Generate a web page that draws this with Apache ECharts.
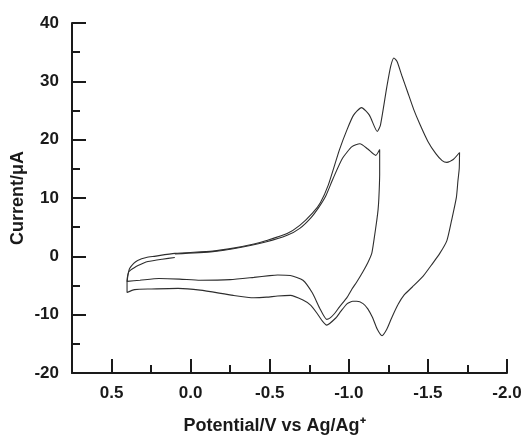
<!DOCTYPE html>
<html>
<head>
<meta charset="utf-8">
<script src="https://cdn.jsdelivr.net/npm/echarts@6/dist/echarts.min.js"></script>
<style>
  html, body { margin: 0; padding: 0; background: #fff; }
  #chart { width: 524px; height: 435px; }
</style>
</head>
<body>
<div id="chart"></div>
<script>
// wide scan (0.4 V -> -1.7 V -> 0.4 V), [potential V, current uA]
const outerScan = [
  [0.402, -4.4], [0.395, -3.0], [0.386, -2.1], [0.36, -1.2], [0.335, -0.7], [0.28, -0.2],
  [0.23, 0.0], [0.10, 0.5], [-0.14, 0.9], [-0.27, 1.4], [-0.40, 2.1], [-0.48, 2.7],
  [-0.61, 3.9], [-0.69, 5.3], [-0.77, 7.4], [-0.82, 9.2], [-0.87, 12.2], [-0.94, 18.2],
  [-0.99, 21.8], [-1.03, 24.2], [-1.08, 25.5], [-1.13, 24.2], [-1.18, 21.4], [-1.20, 22.5],
  [-1.24, 29.0], [-1.265, 32.6], [-1.285, 34.0], [-1.305, 33.4], [-1.335, 31.0], [-1.37, 28.3],
  [-1.41, 25.2], [-1.45, 22.6], [-1.50, 19.7], [-1.55, 17.6], [-1.59, 16.4], [-1.62, 16.1],
  [-1.66, 16.6], [-1.70, 17.8],
  [-1.698, 15.0], [-1.69, 13.0], [-1.68, 10.1], [-1.65, 6.2], [-1.62, 2.7], [-1.575, 0.5],
  [-1.53, -1.2], [-1.47, -3.4], [-1.40, -5.3], [-1.35, -6.6], [-1.31, -8.3],
  [-1.27, -10.6], [-1.24, -12.5], [-1.21, -13.6], [-1.18, -12.5], [-1.15, -10.5], [-1.12, -9.0],
  [-1.09, -8.1], [-1.05, -7.7], [-1.025, -7.7], [-0.99, -8.1], [-0.95, -9.4], [-0.92, -10.5],
  [-0.86, -11.8], [-0.83, -11.0], [-0.80, -9.8], [-0.76, -8.4], [-0.71, -7.5], [-0.63, -6.7],
  [-0.55, -6.8], [-0.48, -7.0], [-0.40, -7.1], [-0.27, -6.7], [-0.06, -5.8], [0.08, -5.5],
  [0.25, -5.6], [0.354, -5.7], [0.402, -6.2], [0.402, -4.4]
]

// narrow scan (0.1 V -> -1.2 V -> 0.4 V -> 0.1 V)
const innerScan = [
  [0.10, 0.4], [-0.14, 0.8], [-0.27, 1.3], [-0.48, 2.5], [-0.61, 3.6], [-0.69, 4.8],
  [-0.76, 6.6], [-0.81, 8.4], [-0.855, 10.4], [-0.90, 13.3], [-0.96, 16.8], [-1.02, 18.8],
  [-1.07, 19.3], [-1.12, 18.4], [-1.17, 17.3], [-1.195, 18.3],
  [-1.195, 14.0], [-1.19, 10.0], [-1.185, 8.0], [-1.177, 6.2], [-1.16, 3.0], [-1.145, 0.5],
  [-1.12, -1.1], [-1.09, -2.6], [-1.05, -4.4], [-1.02, -5.6], [-0.99, -7.0], [-0.94, -8.7],
  [-0.91, -9.8], [-0.88, -10.6], [-0.86, -10.8], [-0.816, -8.9], [-0.77, -6.3], [-0.71, -4.1],
  [-0.63, -3.3], [-0.55, -3.2], [-0.50, -3.3], [-0.40, -3.6], [-0.25, -4.0], [-0.06, -4.1],
  [0.07, -3.9], [0.20, -3.8], [0.32, -4.1], [0.402, -4.3],
  [0.40, -3.6], [0.39, -2.6], [0.354, -1.9], [0.30, -1.2], [0.27, -0.9], [0.18, -0.5], [0.10, -0.2]
]

const xTicks = [0.5, 0.0, -0.5, -1.0, -1.5, -2.0]

const FONT = '"Liberation Sans", Arial, sans-serif'
const INK = '#1a1a1a'

const chart = echarts.init(document.getElementById('chart'), null, { renderer: 'canvas' })

const lineSeries = (data) => ({
  type: 'line',
  data,
  showSymbol: false,
  smooth: 0.2,
  lineStyle: { color: '#2e2e2e', width: 1.1 },
  animation: false
})

chart.setOption({
  backgroundColor: '#fff',
  grid: { left: 72, right: 17, top: 23, bottom: 62, outerBoundsMode: 'none' },
  xAxis: {
    type: 'value',
    inverse: true,
    min: -2.0,
    max: 0.75,
    interval: 0.5,
    name: 'Potential/V vs Ag/Ag\u207A',
    nameLocation: 'middle',
    nameGap: 44,
    nameTextStyle: { fontFamily: FONT, fontWeight: 'bold', fontSize: 18, color: INK, padding: [0, 30, 0, 0] },
    axisLine: { show: true, onZero: false, lineStyle: { color: INK, width: 2 } },
    axisTick: { show: true, inside: true, length: 14, lineStyle: { color: INK, width: 2 } },
    minorTick: { show: true, splitNumber: 2, length: 8, lineStyle: { color: INK, width: 2 } },
    splitLine: { show: false },
    axisLabel: {
      margin: 12,
      fontFamily: FONT, fontWeight: 'bold', fontSize: 17, color: INK,
      formatter: v => xTicks.some(t => Math.abs(t - v) < 1e-6) ? v.toFixed(1) : ''
    }
  },
  yAxis: {
    type: 'value',
    min: -20,
    max: 40,
    interval: 10,
    name: 'Current/\u03BCA',
    nameLocation: 'middle',
    nameGap: 45,
    nameMoveOverlap: false,
    nameTextStyle: { fontFamily: FONT, fontWeight: 'bold', fontSize: 18, color: INK },
    axisLine: { show: true, onZero: false, lineStyle: { color: INK, width: 2 } },
    axisTick: { show: true, inside: true, length: 14, lineStyle: { color: INK, width: 2 } },
    minorTick: { show: true, splitNumber: 2, length: 8, lineStyle: { color: INK, width: 2 } },
    splitLine: { show: false },
    axisLabel: { margin: 13, fontFamily: FONT, fontWeight: 'bold', fontSize: 17, color: INK }
  },
  series: [lineSeries(outerScan), lineSeries(innerScan)]
})
</script>
</body>
</html>
